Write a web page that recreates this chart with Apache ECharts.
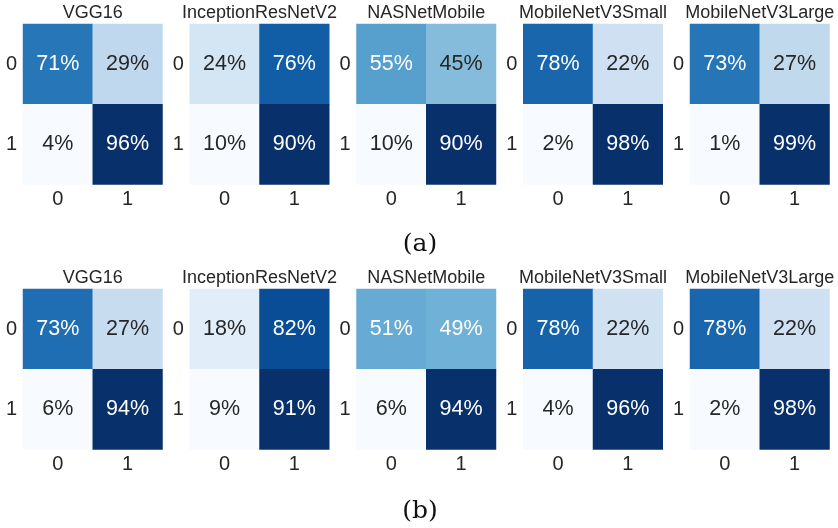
<!DOCTYPE html>
<html>
<head>
<meta charset="utf-8">
<script src="https://cdn.jsdelivr.net/npm/echarts@6/dist/echarts.min.js"></script>
<style>
  html, body { margin: 0; padding: 0; background: #fff; }
  #chart { width: 838px; height: 528px; }
</style>
</head>
<body>
<div id="chart"></div>
<script>
// Model names shown above each confusion matrix
const models = ['VGG16', 'InceptionResNetV2', 'NASNetMobile', 'MobileNetV3Small', 'MobileNetV3Large'];
const classLabels = ['0', '1'];

// Normalised confusion matrices (percent), rows = true class, cols = predicted class
const setA = [
  [[71, 29], [4, 96]],
  [[24, 76], [10, 90]],
  [[55, 45], [10, 90]],
  [[78, 22], [2, 98]],
  [[73, 27], [1, 99]]
];
const setB = [
  [[73, 27], [6, 94]],
  [[18, 82], [9, 91]],
  [[51, 49], [6, 94]],
  [[78, 22], [4, 96]],
  [[78, 22], [2, 98]]
];
const captions = ['(a)', '(b)'];

// matplotlib "Blues" colour stops
const blues = ['#f7fbff', '#deebf7', '#c6dbef', '#9ecae1', '#6baed6', '#4292c6', '#2171b5', '#08519c', '#08306b'];

function hexToRgb(h) {
  return [parseInt(h.slice(1, 3), 16), parseInt(h.slice(3, 5), 16), parseInt(h.slice(5, 7), 16)];
}
function cmap(t) {
  t = Math.max(0, Math.min(1, t));
  const pos = t * (blues.length - 1);
  const i = Math.min(Math.floor(pos), blues.length - 2);
  const f = pos - i;
  const a = hexToRgb(blues[i]), b = hexToRgb(blues[i + 1]);
  return a.map((v, k) => v + (b[k] - v) * f);
}
function luminance(rgb) {
  const lin = rgb.map(c => {
    c /= 255;
    return c <= 0.03928 ? c / 12.92 : Math.pow((c + 0.055) / 1.055, 2.4);
  });
  return 0.2126 * lin[0] + 0.7152 * lin[1] + 0.0722 * lin[2];
}

const chart = echarts.init(document.getElementById('chart'), null, { renderer: 'canvas' });

const grids = [], xAxes = [], yAxes = [], series = [], visualMaps = [], titles = [];
const sans = 'Liberation Sans, Arial, sans-serif';
const panelLeft = 23, panelStep = 166.75, panelW = 139.5, panelH = 160.5;
const rowTops = [24, 289];

[setA, setB].forEach((set, r) => {
  set.forEach((m, c) => {
    const idx = r * 5 + c;
    const left = panelLeft + c * panelStep;
    grids.push({ left: left, top: rowTops[r], width: panelW, height: panelH });
    xAxes.push({
      type: 'category', gridIndex: idx, data: classLabels,
      axisLine: { show: false }, axisTick: { show: false }, splitLine: { show: false },
      axisLabel: { color: '#262626', fontFamily: sans, fontSize: 20, margin: 5 }
    });
    yAxes.push({
      type: 'category', gridIndex: idx, data: classLabels, inverse: true,
      axisLine: { show: false }, axisTick: { show: false }, splitLine: { show: false },
      axisLabel: { color: '#262626', fontFamily: sans, fontSize: 20, margin: 6 }
    });
    const flat = [m[0][0], m[0][1], m[1][0], m[1][1]];
    const vmin = Math.min(...flat), vmax = Math.max(...flat);
    const data = [];
    m.forEach((row, yi) => row.forEach((v, xi) => {
      const lum = luminance(cmap((v - vmin) / (vmax - vmin)));
      data.push({
        value: [xi, yi, v],
        label: { color: lum > 0.408 ? '#262626' : '#ffffff' }
      });
    }));
    series.push({
      type: 'heatmap', xAxisIndex: idx, yAxisIndex: idx, data: data,
      label: {
        show: true, fontFamily: sans, fontSize: 21.5,
        formatter: p => p.value[2] + '%'
      },
      itemStyle: { borderWidth: 0 },
      emphasis: { disabled: true }
    });
    visualMaps.push({
      show: false, seriesIndex: idx, dimension: 2, min: vmin, max: vmax,
      inRange: { color: blues }
    });
    titles.push({
      text: models[c], left: left + panelW / 2, top: rowTops[r] - 20, textAlign: 'center', padding: 0,
      textStyle: { fontFamily: sans, fontSize: 18, fontWeight: 'normal', color: '#262626', lineHeight: 18 }
    });
  });
});

captions.forEach((t, r) => {
  titles.push({
    text: t, left: 420, top: r === 0 ? 230 : 497, textAlign: 'center', padding: 0,
    textStyle: { fontFamily: 'DejaVu Serif, Liberation Serif, serif', fontSize: 25, fontWeight: 'normal', color: '#111', lineHeight: 28 }
  });
});

chart.setOption({
  animation: false,
  backgroundColor: '#ffffff',
  title: titles,
  grid: grids,
  xAxis: xAxes,
  yAxis: yAxes,
  visualMap: visualMaps,
  series: series
});
</script>
</body>
</html>
